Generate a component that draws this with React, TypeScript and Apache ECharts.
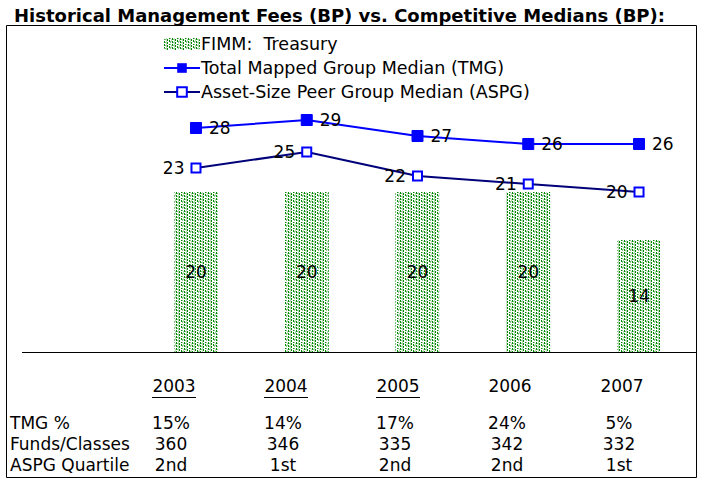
import React, { useEffect, useRef } from 'react';
import * as echarts from 'echarts';

const years = ['2003', '2004', '2005', '2006', '2007'];
const fimmTreasury = [20, 20, 20, 20, 14];
const tmgMedian = [28, 29, 27, 26, 26];
const aspgMedian = [23, 25, 22, 21, 20];
const tmgPct = ['15%', '14%', '17%', '24%', '5%'];
const fundsClasses = ['360', '346', '335', '342', '332'];
const aspgQuartile = ['2nd', '1st', '2nd', '2nd', '1st'];
const underlinedYears = ['2003', '2004', '2005'];
const rowLabels = ['TMG %', 'Funds/Classes', 'ASPG Quartile'];
const chartTitle = 'Historical Management Fees (BP) vs. Competitive Medians (BP):';

const FONT = '"DejaVu Sans", Verdana, sans-serif';

function makePattern() {
  const c = document.createElement('canvas');
  c.width = 8;
  c.height = 6;
  const ctx = c.getContext('2d')!;
  ctx.fillStyle = '#ffffff';
  ctx.fillRect(0, 0, 8, 6);
  ctx.fillStyle = '#008a00';
  ctx.fillRect(0, 0, 1, 2);
  ctx.fillRect(0, 3, 1, 2);
  ctx.fillRect(3, 1, 1, 2);
  ctx.fillRect(3, 4, 1, 2);
  ctx.fillRect(5, 0, 1, 1);
  ctx.fillRect(5, 2, 1, 2);
  ctx.fillStyle = '#7cc47c';
  ctx.fillRect(1, 1, 1, 1);
  ctx.fillRect(1, 4, 1, 1);
  ctx.fillRect(6, 3, 1, 2);
  ctx.fillRect(6, 0, 1, 1);
  ctx.fillStyle = '#b8d8b8';
  ctx.fillRect(2, 0, 1, 6);
  ctx.fillRect(7, 1, 1, 3);
  return { image: c, repeat: 'repeat', imageWidth: 8, imageHeight: 6 } as any;
}

export default function App() {
  const ref = useRef<HTMLDivElement>(null);
  useEffect(() => {
    if (!ref.current) return;
    const chart = echarts.init(ref.current, null, { renderer: 'svg' });
    const pattern = makePattern();

    const colX = (i: number) => 174 + i * 112;
    const tableRows = [tmgPct, fundsClasses, aspgQuartile];
    const rowY = [423, 444, 465];

    const graphics: any[] = [
      {
        type: 'rect',
        shape: { x: 6.5, y: 25.5, width: 690, height: 452 },
        style: { fill: 'none', stroke: '#000', lineWidth: 1 },
        silent: true,
        z: -1,
      },
      {
        type: 'line',
        shape: { x1: 22, y1: 352.5, x2: 696, y2: 352.5 },
        style: { stroke: '#000', lineWidth: 1 },
        z: 10,
      },
    ];
    years.forEach((y, i) => {
      graphics.push({
        type: 'text',
        x: colX(i),
        y: 386,
        style: {
          text: y,
          font: `17px ${FONT}`,
          fill: '#000',
          align: 'center',
          verticalAlign: 'middle',
        },
      });
      if (underlinedYears.includes(y)) {
        graphics.push({
          type: 'line',
          shape: { x1: colX(i) - 22, y1: 397.5, x2: colX(i) + 22, y2: 397.5 },
          style: { stroke: '#000', lineWidth: 1 },
        });
      }
    });
    rowLabels.forEach((lab, r) => {
      graphics.push({
        type: 'text',
        x: 10,
        y: rowY[r],
        style: { text: lab, font: `17px ${FONT}`, fill: '#000', align: 'left', verticalAlign: 'middle' },
      });
      tableRows[r].forEach((v, i) => {
        graphics.push({
          type: 'text',
          x: colX(i) - 3,
          y: rowY[r],
          style: { text: v, font: `17px ${FONT}`, fill: '#000', align: 'center', verticalAlign: 'middle' },
        });
      });
    });

    const option: any = {
      animation: false,
      backgroundColor: '#ffffff',
      title: {
        text: chartTitle,
        left: 9,
        top: 1,
        textStyle: { fontFamily: FONT, fontSize: 18, fontWeight: 'bold', color: '#000' },
      },
      legend: {
        orient: 'vertical',
        left: 158,
        top: 30,
        itemGap: 6,
        itemWidth: 36,
        itemHeight: 12,
        textStyle: { fontFamily: FONT, fontSize: 17.5, color: '#000', padding: [0, 0, 0, -4] },
        data: [
          { name: 'FIMM:  Treasury', itemStyle: { color: pattern } },
          'Total Mapped Group Median (TMG)',
          'Asset-Size Peer Group Median (ASPG)',
        ],
      },
      grid: { left: 140.6, right: 8.6, top: 112, bottom: 133 },
      xAxis: {
        type: 'category',
        data: years,
        axisLine: { show: false },
        axisTick: { show: false },
        axisLabel: { show: false },
      },
      yAxis: {
        type: 'value',
        min: 0,
        max: 30,
        show: false,
        splitLine: { show: false },
      },
      series: [
        {
          name: 'FIMM:  Treasury',
          type: 'bar',
          data: fimmTreasury,
          barWidth: 44,
          itemStyle: { color: pattern },
          label: {
            show: true,
            position: 'inside',
            fontFamily: FONT,
            fontSize: 17,
            color: '#000',
          },
        },
        {
          name: 'Total Mapped Group Median (TMG)',
          type: 'line',
          data: tmgMedian,
          symbol: 'rect',
          symbolSize: 11,
          lineStyle: { color: '#0000ff', width: 2 },
          itemStyle: { color: '#0000ff', borderColor: '#0000ff' },
          label: {
            show: true,
            position: 'right',
            distance: 7,
            fontFamily: FONT,
            fontSize: 17,
            color: '#000',
          },
          z: 3,
        },
        {
          name: 'Asset-Size Peer Group Median (ASPG)',
          type: 'line',
          data: aspgMedian,
          symbol: 'rect',
          symbolSize: 9,
          lineStyle: { color: '#00007a', width: 2 },
          itemStyle: { color: '#ffffff', borderColor: '#0000ff', borderWidth: 2 },
          label: {
            show: true,
            position: 'left',
            distance: 6,
            fontFamily: FONT,
            fontSize: 17,
            color: '#000',
          },
          z: 3,
        },
      ],
      graphic: graphics,
    };
    chart.setOption(option);
    return () => chart.dispose();
  }, []);
  return (
    <div style={{ position: 'absolute', left: 0, top: 0, width: 703, height: 485, background: '#fff' }}>
      <div ref={ref} style={{ width: 703, height: 485 }} />
    </div>
  );
}
